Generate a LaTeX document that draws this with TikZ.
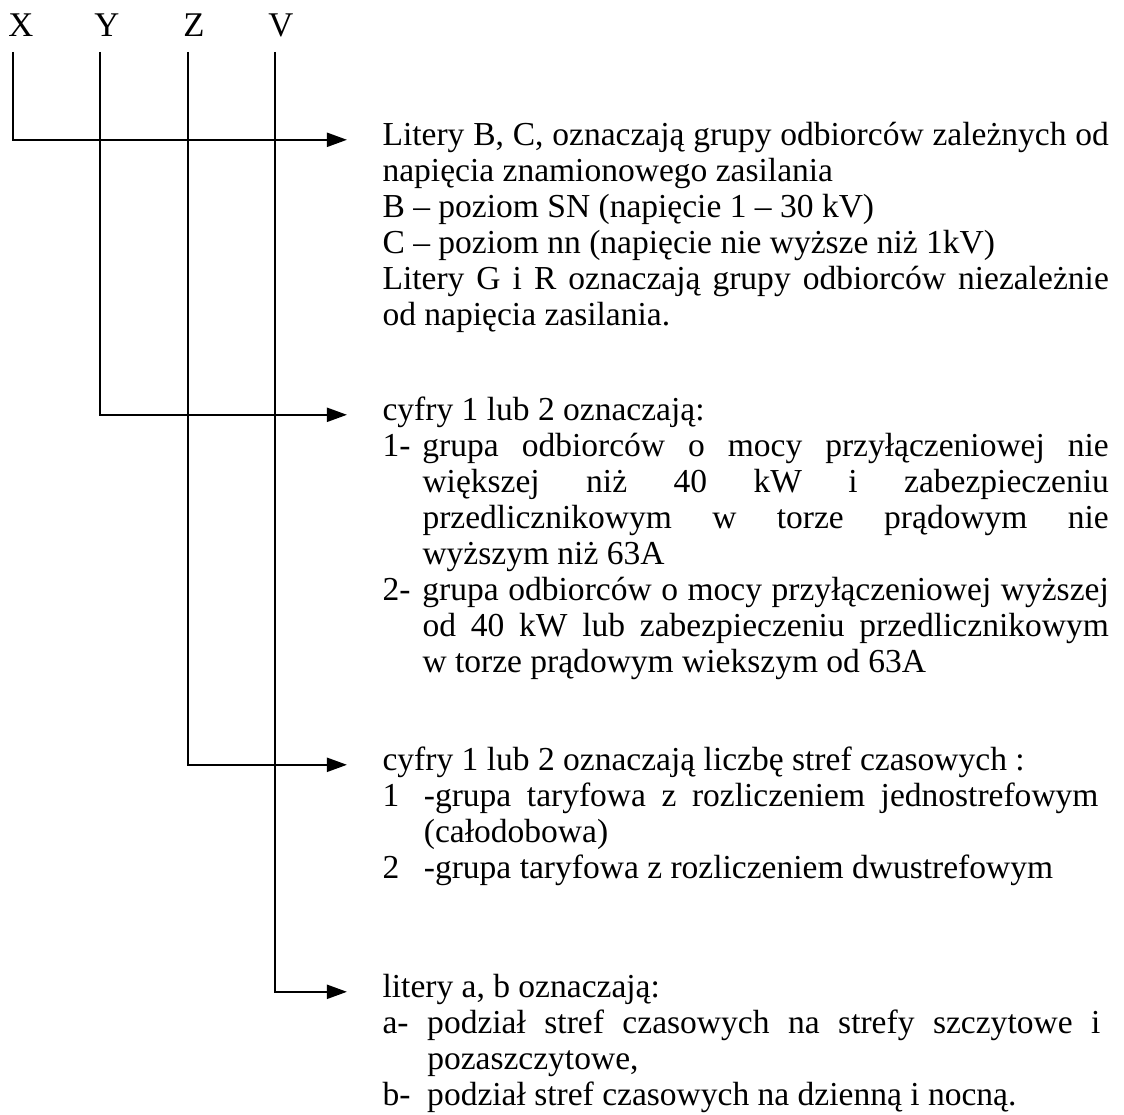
\documentclass[tikz,border=0pt]{standalone}
\usepackage{fontspec}
\setmainfont{Liberation Serif}
\usetikzlibrary{arrows.meta,calc}
\setlength{\parindent}{0pt}
\hbadness=10000
\newcommand{\hangitem}[3][14.3pt]{\par\hangindent=#1\hangafter=1\makebox[#1][l]{#2}#3\par}

\begin{document}
\begin{tikzpicture}[x=0.358pt,y=-0.358pt,
    letter/.style={font=\fontsize{12.4}{12.9}\selectfont,inner sep=0pt,anchor=base},
    txt/.style={font=\fontsize{12}{12.9}\selectfont,inner sep=0pt,anchor=north west,
                align=justify,text width=#1},
    txt/.default=260pt,
    conn/.style={line width=0.85pt,-{Triangle[length=7.2pt,width=5pt]}}
   ]
\useasboundingbox (0,0) rectangle (1124,1115);

\foreach \lt/\xx in {X/21,Y/107,Z/194,V/281}
  \node[letter] (\lt) at (\xx,37) {\lt};

\node[txt] (tX) at (382,119.8) {\strut Litery B, C, oznaczają grupy odbiorców zależnych od\linebreak
  napięcia znamionowego zasilania\par
  B – poziom SN (napięcie 1 – 30 kV)\par
  C – poziom nn (napięcie nie wyższe niż 1kV)\par
  Litery G i R oznaczają grupy odbiorców niezależnie\linebreak od napięcia zasilania.};

\node[txt] (tY) at (382,394.8) {\strut cyfry 1 lub 2 oznaczają:
  \hangitem{1-}{grupa odbiorców o mocy przyłączeniowej nie\linebreak
    większej niż 40 kW i zabezpieczeniu\linebreak
    przedlicznikowym w torze prądowym nie\linebreak
    wyższym niż 63A}
  \hangitem{2-}{grupa odbiorców o mocy przyłączeniowej wyższej\linebreak
    od 40 kW lub zabezpieczeniu przedlicznikowym\linebreak
    w torze prądowym wiekszym od 63A}};

\node[txt=256.3pt] (tZ) at (382,744.8) {\strut cyfry 1 lub 2 oznaczają liczbę stref czasowych :
  \hangitem[14.8pt]{1}{-grupa taryfowa z rozliczeniem jednostrefowym\linebreak
    (całodobowa)}
  \hangitem[14.8pt]{2}{-grupa taryfowa z rozliczeniem dwustrefowym}};

\node[txt=257pt] (tV) at (382,971.8) {\strut litery a, b oznaczają:
  \hangitem[16pt]{a-}{podział stref czasowych na strefy szczytowe i\linebreak
    pozaszczytowe,}
  \hangitem[16pt]{b-}{podział stref czasowych na dzienną i nocną.}};

\draw[conn] ($(X.base)+(-8,15)$) |- ($(tX.north west)+(-35,20)$);
\draw[conn] ($(Y.base)+(-7,15)$) |- ($(tY.north west)+(-35,20)$);
\draw[conn] ($(Z.base)+(-6,15)$) |- ($(tZ.north west)+(-35,20)$);
\draw[conn] ($(V.base)+(-6,15)$) |- ($(tV.north west)+(-35,20)$);
\end{tikzpicture}
\end{document}
